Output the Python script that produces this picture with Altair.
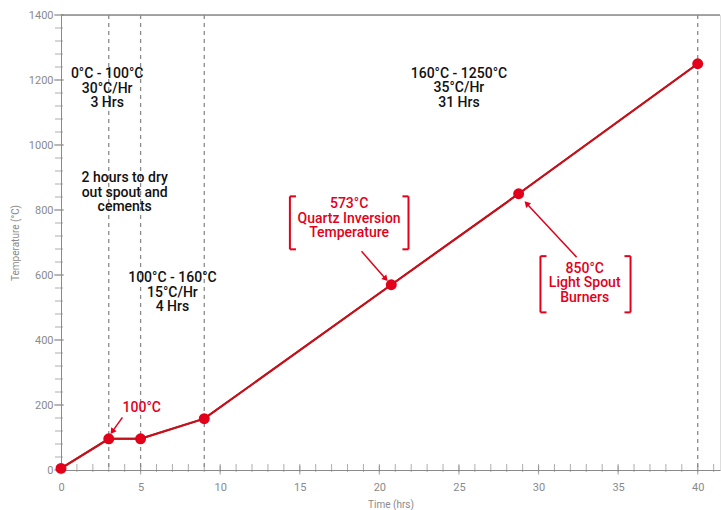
import altair as alt
import pandas as pd
import numpy as np

# --- data ---
hours = [0, 3, 5, 9, 20.75, 28.75, 40]
temps = [5, 96, 96, 158, 570, 850, 1250]

phase_hours = [3, 5, 9, 40]

# y = position of first text line
note_x = [2.9, 4.0, 7.0, 25.0]
note_y = [1217, 897, 590, 1220]
note_text = ["0°C - 100°C\n30°C/Hr\n3 Hrs",
             "2 hours to dry\nout spout and\ncements",
             "100°C - 160°C\n15°C/Hr\n4 Hrs",
             "160°C - 1250°C\n35°C/Hr\n31 Hrs"]

red_x = [5.07, 18.1, 32.9]
red_y = [190, 817, 620]
red_text = ["100°C", "573°C\nQuartz Inversion\nTemperature", "850°C\nLight Spout\nBurners"]

# arrows: start -> end (data units)
arr_x0 = [3.86, 18.88, 32.39]
arr_y0 = [162, 673, 655]
arr_x1 = [3.22, 20.40, 29.25]
arr_y1 = [118, 588, 820]

# brackets around red notes
br_left = [14.38, 30.12]
br_right = [21.83, 35.78]
br_top = [842, 658]
br_bottom = [679, 485]
serif = 0.38

x_major = [0, 5, 10, 15, 20, 25, 30, 35, 40]
x_minor = list(range(0, 42))
y_major = [0, 200, 400, 600, 800, 1000, 1200, 1400]
y_minor = list(range(0, 1401, 40))

W, H = 659, 455
XMAX, YMAX = 41.4, 1400
pxx, pxy = W / XMAX, H / YMAX

RED_LINE = "#c4121c"
RED = "#e2001a"
GRAY = "#8a8a8a"
FONT = "Roboto"

xs = alt.Scale(domain=[0, XMAX], nice=False, zero=False)
ys = alt.Scale(domain=[0, YMAX], nice=False)

xaxis = alt.Axis(values=x_major, ticks=False, grid=False, domainColor=GRAY, format="d",
                 labelColor=GRAY, labelFontSize=11, labelFont=FONT, labelPadding=11,
                 labelFlush=False,
                 title="Time (hrs)", titleColor=GRAY, titleFontSize=10, titleFont=FONT,
                 titleFontWeight="normal", titlePadding=7)
yaxis = alt.Axis(values=y_major, ticks=False, grid=False, domainColor=GRAY, format="d",
                 labelColor=GRAY, labelFontSize=11, labelFont=FONT, labelPadding=8,
                 labelFlush=False,
                 title="Temperature (°C)", titleColor=GRAY, titleFontSize=10, titleFont=FONT,
                 titleFontWeight="normal", titlePadding=8)

line_df = pd.DataFrame({"h": hours, "t": temps})

base_line = alt.Chart(line_df).mark_line(color=RED_LINE, strokeWidth=2).encode(
    x=alt.X("h:Q", scale=xs, axis=xaxis),
    y=alt.Y("t:Q", scale=ys, axis=yaxis),
)
pts = alt.Chart(line_df).mark_circle(color=RED, size=120, opacity=1).encode(
    x=alt.X("h:Q", scale=xs), y=alt.Y("t:Q", scale=ys))

vlines = alt.Chart(pd.DataFrame({"h": phase_hours})).mark_rule(
    color=GRAY, strokeDash=[4, 4], strokeWidth=1.3).encode(x=alt.X("h:Q", scale=xs))

top_line = alt.Chart(pd.DataFrame({"t": [1400]})).mark_rule(
    color=GRAY, strokeWidth=1.5).encode(y=alt.Y("t:Q", scale=ys))

# ticks
xmaj = alt.Chart(pd.DataFrame({"h": x_major, "t": 0})).mark_tick(
    orient="vertical", size=9, thickness=1.2, color=GRAY).encode(
    x=alt.X("h:Q", scale=xs), y=alt.Y("t:Q", scale=ys))
xmin = alt.Chart(pd.DataFrame({"h": x_minor, "t": 0})).mark_tick(
    orient="vertical", size=8, thickness=1, color=GRAY, yOffset=-2).encode(
    x=alt.X("h:Q", scale=xs), y=alt.Y("t:Q", scale=ys))
ymaj = alt.Chart(pd.DataFrame({"h": 0, "t": y_major})).mark_tick(
    orient="horizontal", size=10, thickness=1.2, color=GRAY, xOffset=-2).encode(
    x=alt.X("h:Q", scale=xs), y=alt.Y("t:Q", scale=ys))
ymin = alt.Chart(pd.DataFrame({"h": 0, "t": y_minor})).mark_tick(
    orient="horizontal", size=8, thickness=1, color=GRAY, xOffset=-2).encode(
    x=alt.X("h:Q", scale=xs), y=alt.Y("t:Q", scale=ys))

notes = alt.Chart(pd.DataFrame({"x": note_x, "y": note_y, "txt": note_text})).mark_text(
    font=FONT, fontSize=14, fontWeight=500, color="#111111", lineBreak="\n",
    lineHeight=14.5, align="center", baseline="middle").encode(
    x=alt.X("x:Q", scale=xs), y=alt.Y("y:Q", scale=ys), text="txt:N")

red_notes = alt.Chart(pd.DataFrame({"x": red_x, "y": red_y, "txt": red_text})).mark_text(
    font=FONT, fontSize=14, fontWeight=500, color=RED, lineBreak="\n",
    lineHeight=14.5, align="center", baseline="middle").encode(
    x=alt.X("x:Q", scale=xs), y=alt.Y("y:Q", scale=ys), text="txt:N")

# arrows
arr_df = pd.DataFrame({"x0": arr_x0, "y0": arr_y0, "x1": arr_x1, "y1": arr_y1})
dxp = (arr_df.x1 - arr_df.x0) * pxx
dyp = -(arr_df.y1 - arr_df.y0) * pxy
arr_df["ang"] = (np.degrees(np.arctan2(dxp, -dyp)) + 360) % 360
arr_lines = alt.Chart(arr_df).mark_rule(color=RED, strokeWidth=1.5).encode(
    x=alt.X("x0:Q", scale=xs), y=alt.Y("y0:Q", scale=ys), x2="x1:Q", y2="y1:Q")
arr_heads = alt.Chart(arr_df).mark_point(shape="triangle-up", filled=True, color=RED,
                                         size=45, opacity=1).encode(
    x=alt.X("x1:Q", scale=xs), y=alt.Y("y1:Q", scale=ys),
    angle=alt.Angle("ang:Q", scale=None))

# brackets
segs = []
for l, r, t, b in zip(br_left, br_right, br_top, br_bottom):
    segs.append((l, t, l, b))
    segs.append((l, t, l + serif, t))
    segs.append((l, b, l + serif, b))
    segs.append((r, t, r, b))
    segs.append((r, t, r - serif, t))
    segs.append((r, b, r - serif, b))
br_df = pd.DataFrame(segs, columns=["x0", "y0", "x1", "y1"])
brackets = alt.Chart(br_df).mark_rule(color=RED, strokeWidth=2).encode(
    x=alt.X("x0:Q", scale=xs), y=alt.Y("y0:Q", scale=ys), x2="x1:Q", y2="y1:Q")

chart = alt.layer(
    base_line, top_line, vlines, xmin, xmaj, ymin, ymaj, base_line, pts,
    notes, red_notes, arr_lines, arr_heads, brackets
).properties(
    width=W, height=H,
    autosize=alt.AutoSizeParams(type="none"),
    padding={"left": 61, "top": 15, "right": 1, "bottom": 40},
).configure_view(stroke=None).configure(background="white")

chart.save("out.html", embed_options={"renderer": "svg", "actions": False})
